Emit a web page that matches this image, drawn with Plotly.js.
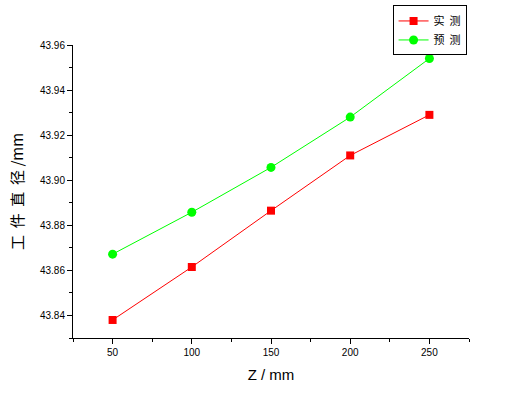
<!DOCTYPE html>
<html>
<head>
<meta charset="utf-8">
<script src="https://cdn.plot.ly/plotly-3.0.1.min.js"></script>
<style>html,body{margin:0;padding:0;background:#fff;}#chart{width:524px;height:398px;}</style>
</head>
<body>
<div id="chart"></div>
<script>
const zValues = [50, 100, 150, 200, 250];
const measured = [43.838, 43.8615, 43.8865, 43.911, 43.929];
const predicted = [43.8672, 43.8858, 43.9057, 43.928, 43.954];
const seriesNames = ['实\u00a0\u00a0测', '预\u00a0\u00a0测'];
const xTitle = 'Z / mm';
const yTitle = '工\u00a0\u00a0件\u00a0\u00a0直\u00a0\u00a0径\u00a0/mm';

const fontFam = 'Liberation Sans, Arial, Noto Sans CJK SC, sans-serif';

const traces = [
  {
    x: zValues, y: measured, name: seriesNames[0], type: 'scatter', mode: 'lines+markers',
    line: {color: '#ff0000', width: 1},
    marker: {symbol: 'square', size: 8, color: '#ff0000'}
  },
  {
    x: zValues, y: predicted, name: seriesNames[1], type: 'scatter', mode: 'lines+markers',
    line: {color: '#00ff00', width: 1},
    marker: {symbol: 'circle', size: 9, color: '#00ff00'}
  }
];

const layout = {
  width: 524, height: 398,
  margin: {l: 73, r: 55, t: 45, b: 60, autoexpand: false},
  paper_bgcolor: '#fff', plot_bgcolor: '#fff',
  font: {family: fontFam, color: '#000', size: 10},
  showlegend: true,
  legend: {
    x: 0.807, y: 1.135, xanchor: 'left', yanchor: 'top',
    bordercolor: '#000', borderwidth: 1, bgcolor: '#fff',
    font: {size: 11, family: 'Noto Sans CJK SC, sans-serif'},
    tracegroupgap: 0, itemwidth: 30
  },
  xaxis: {
    range: [25, 275], tickvals: zValues, ticks: 'outside', ticklen: 5, tickwidth: 1,
    tickcolor: '#000', showline: true, linecolor: '#000', linewidth: 1,
    showgrid: false, zeroline: false, mirror: false,
    minor: {dtick: 25, tick0: 25, ticks: 'outside', ticklen: 3, tickcolor: '#000', showgrid: false},
    tickfont: {size: 10, family: fontFam},
    title: {text: xTitle, font: {size: 15, family: fontFam}, standoff: 12}
  },
  yaxis: {
    range: [43.83, 43.96], dtick: 0.02, tick0: 43.84, tickformat: '.2f',
    ticks: 'outside', ticklen: 5, tickwidth: 1, tickcolor: '#000',
    showline: true, linecolor: '#000', linewidth: 1,
    showgrid: false, zeroline: false, mirror: false,
    minor: {dtick: 0.01, ticks: 'outside', ticklen: 3, tickcolor: '#000', showgrid: false},
    tickfont: {size: 10, family: fontFam},
    title: {text: yTitle, font: {size: 15, family: 'Noto Sans CJK SC, Liberation Sans, sans-serif'}, standoff: 12}
  }
};

Plotly.newPlot('chart', traces, layout, {displayModeBar: false, staticPlot: true});
</script>
</body>
</html>
